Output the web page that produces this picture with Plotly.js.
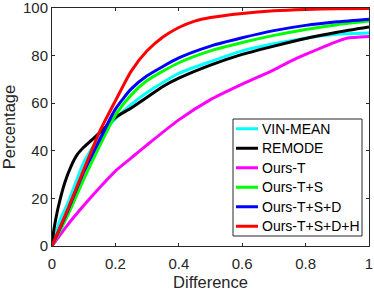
<!DOCTYPE html>
<html><head><meta charset="utf-8">
<script src="https://cdn.plot.ly/plotly-3.0.1.min.js"></script>
<style>html,body{margin:0;padding:0;background:#fff}#chart{width:374px;height:291px}</style>
</head><body><div id="chart"></div>
<script>
const seriesNames = ["VIN-MEAN","REMODE","Ours-T","Ours-T+S","Ours-T+S+D","Ours-T+S+D+H"];
const seriesColors = ["#00FFFF","#000000","#FF00FF","#00FF00","#0000FF","#FF0000"];

const xVin = [0,0.025,0.05,0.1,0.15,0.2,0.25,0.3,0.4,0.5,0.6,0.7,0.8,0.85,0.9,1];
const yVin = [0,10.8,18,35,46,53.5,59.5,64.5,72.5,77.5,82,85,87.3,88.3,89,89.5];

const xRemode = [0,0.005,0.01,0.02,0.04,0.06,0.08,0.1,0.125,0.15,0.2,0.25,0.3,0.35,0.4,0.5,0.6,0.7,0.8,0.9,1];
const yRemode = [0,6,10,16.5,26.5,33.5,38.5,41.5,44.5,47.5,54,58,62.5,67,70.5,76,80.5,84,87.2,89.8,92];

const xT = [0,0.05,0.1,0.15,0.2,0.25,0.3,0.4,0.5,0.6,0.7,0.75,0.8,0.9,0.93,1];
const yT = [0,9,17,24.5,31.5,37,42.5,53,61.5,68,74,77.5,80.5,86,87.3,88];

const xTS = [0,0.05,0.1,0.15,0.2,0.25,0.3,0.4,0.5,0.6,0.7,0.8,0.9,1];
const yTS = [0,13,28,42,55,63.5,69.5,77,82,85.5,88.5,91,93,94.5];

const xTSD = [0,0.05,0.1,0.15,0.2,0.25,0.3,0.4,0.5,0.6,0.7,0.8,0.9,1];
const yTSD = [0,15,31,44.5,57.5,66,71.5,79,84,87.5,90.5,92.7,94.2,95.3];

const xTSDH = [0,0.05,0.1,0.15,0.2,0.25,0.3,0.35,0.4,0.45,0.5,0.6,0.7,0.8,0.9,1];
const yTSDH = [0,15.5,32,48,61,73.5,82,87.8,91.8,94.5,96,97.7,98.8,99.4,99.7,99.8];

const xs = [xVin,xRemode,xT,xTS,xTSD,xTSDH];
const ys = [yVin,yRemode,yT,yTS,yTSD,yTSDH];

const xTicks = [0,0.2,0.4,0.6,0.8,1];
const xTickText = ["0","0.2","0.4","0.6","0.8","1"];
const yTicks = [0,20,40,60,80,100];
const yTickText = ["0","20","40","60","80","100"];

const traces = seriesNames.map((n,i)=>({
  x: xs[i], y: ys[i], name: n, type:'scatter', mode:'lines', showlegend:false,
  line:{color:seriesColors[i], width:3, shape:'spline', smoothing:0.6}
}));

const W = 374, H = 291;
const M = {l:52, r:5, t:8, b:45};
const pw = W - M.l - M.r, ph = H - M.t - M.b;
const px2x = px => (px - M.l) / pw;
const py2y = py => (H - M.b - py) / ph;

// hand-drawn legend box (matching MATLAB style)
const lg = {x0:233, x1:362, y0:119, y1:236};
const rowH = (lg.y1 - lg.y0) / seriesNames.length;
const shapes = [{
  type:'rect', xref:'paper', yref:'paper',
  x0:px2x(lg.x0), x1:px2x(lg.x1), y0:py2y(lg.y1), y1:py2y(lg.y0),
  line:{color:'#262626', width:1}, fillcolor:'#fff', layer:'above'
}];
const annotations = [];
seriesNames.forEach((n,i)=>{
  const cy = lg.y0 + rowH*(i+0.5);
  shapes.push({type:'line', xref:'paper', yref:'paper',
    x0:px2x(236), x1:px2x(258), y0:py2y(cy), y1:py2y(cy),
    line:{color:seriesColors[i], width:3}, layer:'above'});
  annotations.push({xref:'paper', yref:'paper', x:px2x(260), y:py2y(cy),
    xanchor:'left', yanchor:'middle', text:n, showarrow:false,
    font:{family:'Liberation Sans, Arial, sans-serif', size:14, color:'#000'}});
});

const FONT = 'Liberation Sans, Arial, sans-serif';
const axisCommon = {
  showgrid:false, zeroline:false, showline:true, mirror:'ticks',
  linecolor:'#262626', linewidth:1, ticks:'inside', ticklen:3, tickcolor:'#262626',
  ticklabeloverflow:'allow',
  tickfont:{family:FONT, size:15, color:'#262626'}
};

const layout = {
  width:W, height:H,
  margin:M,
  paper_bgcolor:'#fff', plot_bgcolor:'#fff',
  showlegend:false,
  shapes:shapes, annotations:annotations,
  xaxis: Object.assign({}, axisCommon, {
    range:[0,1], tickvals:xTicks, ticktext:xTickText, ticklabelstandoff:4,
    title:{text:'Difference', font:{family:FONT, size:16.5, color:'#262626'}, standoff:5}
  }),
  yaxis: Object.assign({}, axisCommon, {
    range:[0,100], tickvals:yTicks, ticktext:yTickText,
    title:{text:'Percentage', font:{family:FONT, size:16.5, color:'#262626'}, standoff:6}
  })
};

Plotly.newPlot('chart', traces, layout, {displayModeBar:false, staticPlot:true});
</script></body></html>
